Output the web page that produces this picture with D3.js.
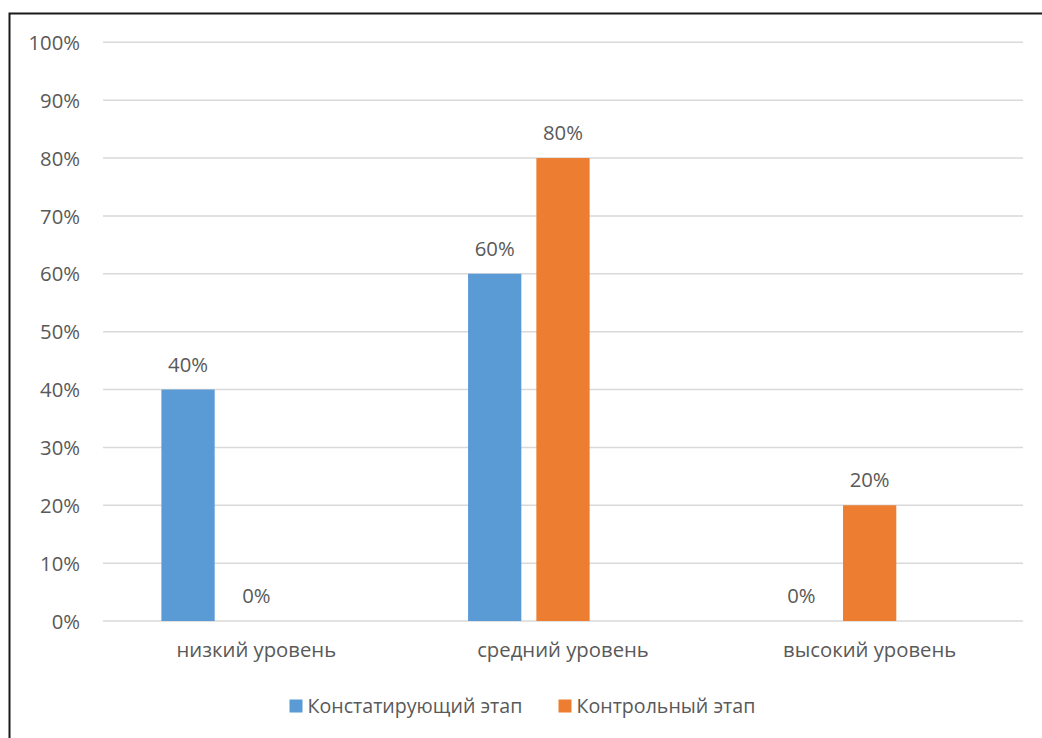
<!DOCTYPE html>
<html>
<head>
<meta charset="utf-8">
<script src="https://cdn.jsdelivr.net/npm/d3@7"></script>
<style>
  html, body { margin: 0; padding: 0; background: #fff; }
  svg { display: block; }
  text { font-family: "Open Sans", sans-serif; fill: #595959; }
</style>
</head>
<body>
<svg id="chart" width="1042" height="738"></svg>
<script>
const categories = ["низкий уровень", "средний уровень", "высокий уровень"];
const seriesNames = ["Констатирующий этап", "Контрольный этап"];
const seriesColors = ["#5B9BD5", "#ED7D31"];
const constatValues = [0.40, 0.60, 0.00];
const controlValues = [0.00, 0.80, 0.20];
const yTicks = [0, 0.1, 0.2, 0.3, 0.4, 0.5, 0.6, 0.7, 0.8, 0.9, 1.0];

const seriesValues = [constatValues, controlValues];
const slots = ["s0", "s1", "s2"]; // third slot is an empty series placeholder

const svg = d3.select("#chart");
const W = 1042, H = 738;
const plot = { left: 103, right: 1023, top: 42.3, bottom: 621 };

// outer border
svg.append("rect")
  .attr("x", 9.5).attr("y", 13.5)
  .attr("width", W + 20).attr("height", H + 20)
  .attr("fill", "none").attr("stroke", "#1a1a1a").attr("stroke-width", 2);

const y = d3.scaleLinear().domain([0, 1]).range([plot.bottom, plot.top]);
const x0 = d3.scaleBand().domain(categories).range([plot.left, plot.right]).padding(0);
const x1 = d3.scaleBand().domain(slots).range([0, x0.bandwidth()])
  .paddingInner(0.22).paddingOuter(0.855);

// gridlines
svg.append("g").selectAll("line").data(yTicks).join("line")
  .attr("x1", plot.left).attr("x2", plot.right)
  .attr("y1", d => y(d)).attr("y2", d => y(d))
  .attr("stroke", "#d9d9d9").attr("stroke-width", 1.5);

// y tick labels
const fmt = d3.format(".0%");
svg.append("g").selectAll("text").data(yTicks).join("text")
  .attr("x", 80).attr("y", d => y(d) + 7.6)
  .attr("text-anchor", "end")
  .attr("font-size", 20.3)
  .text(d => fmt(d));

// bars
const barData = [];
categories.forEach((c, ci) => {
  seriesValues.forEach((vals, si) => {
    barData.push({ cat: c, slot: slots[si], value: vals[ci], color: seriesColors[si] });
  });
});

svg.append("g").selectAll("rect").data(barData).join("rect")
  .attr("x", d => x0(d.cat) + x1(d.slot))
  .attr("width", x1.bandwidth())
  .attr("y", d => y(d.value))
  .attr("height", d => y(0) - y(d.value))
  .attr("fill", d => d.color);

// value labels
svg.append("g").selectAll("text").data(barData).join("text")
  .attr("x", d => x0(d.cat) + x1(d.slot) + x1.bandwidth() / 2)
  .attr("y", d => y(d.value) - 18)
  .attr("text-anchor", "middle")
  .attr("font-size", 20.3)
  .text(d => fmt(d.value));

// category labels
svg.append("g").selectAll("text").data(categories).join("text")
  .attr("x", d => x0(d) + x0.bandwidth() / 2)
  .attr("y", 657.3)
  .attr("text-anchor", "middle")
  .attr("font-size", 20.3)
  .text(d => d);

// legend
const legend = svg.append("g");
const legendX = [289.5, 558.5];
seriesNames.forEach((name, i) => {
  legend.append("rect")
    .attr("x", legendX[i]).attr("y", 699.5)
    .attr("width", 13).attr("height", 13)
    .attr("fill", seriesColors[i]);
  legend.append("text")
    .attr("x", legendX[i] + 18).attr("y", 713.3)
    .attr("font-size", 19.6)
    .text(name);
});
</script>
</body>
</html>
